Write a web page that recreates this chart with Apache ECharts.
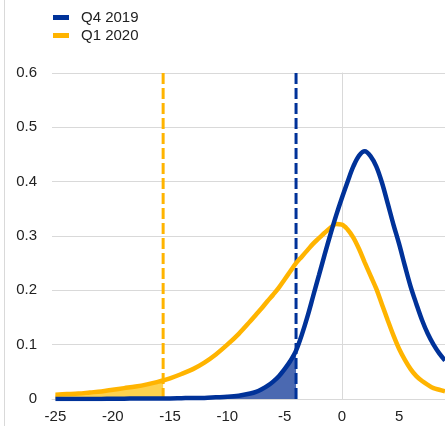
<!DOCTYPE html>
<html>
<head>
<meta charset="utf-8">
<script src="https://cdn.jsdelivr.net/npm/echarts@6/dist/echarts.min.js"></script>
<style>
  html, body { margin: 0; padding: 0; background: #fff; }
  #chart { width: 445px; height: 426px; }
</style>
</head>
<body>
<div id="chart"></div>
<script>
// Growth outcomes grid (x) and estimated densities for two quarters
const xs = [-25, -24, -23, -22, -21, -20, -19, -18, -17, -16, -15.6, -15, -14, -13, -12, -11, -10, -9, -8,
            -7.5, -7, -6.5, -6, -5.5, -5, -4.5, -4, -3.5, -3, -2.5, -2, -1.5, -1, -0.5, 0,
            0.5, 1, 1.5, 2, 2.5, 3, 3.5, 4, 4.5, 5, 5.5, 6, 6.5, 7, 7.5, 8, 8.5, 9];
const q4_2019 = [0.000, 0.000, 0.000, 0.000, 0.000, 0.0005, 0.0005, 0.001, 0.001, 0.001, 0.001, 0.001, 0.0015, 0.002, 0.002, 0.003, 0.004, 0.006, 0.010,
                 0.013, 0.018, 0.024, 0.032, 0.042, 0.055, 0.070, 0.089, 0.118, 0.152, 0.190, 0.228, 0.266, 0.303, 0.338, 0.370,
                 0.400, 0.428, 0.448, 0.456, 0.447, 0.428, 0.398, 0.360, 0.321, 0.285, 0.245, 0.207, 0.175, 0.145, 0.120, 0.100, 0.084, 0.071];
const q1_2020 = [0.008, 0.009, 0.010, 0.012, 0.014, 0.017, 0.020, 0.023, 0.027, 0.032, 0.034, 0.038, 0.046, 0.055, 0.067, 0.082, 0.100, 0.120, 0.143,
                 0.155, 0.167, 0.180, 0.192, 0.205, 0.220, 0.235, 0.250, 0.262, 0.274, 0.286, 0.296, 0.306, 0.315, 0.322, 0.321,
                 0.312, 0.297, 0.276, 0.251, 0.227, 0.203, 0.174, 0.145, 0.117, 0.092, 0.072, 0.055, 0.042, 0.033, 0.026, 0.020, 0.017, 0.014];

// Left-tail thresholds (shaded areas end here)
const cutQ4 = -4;
const cutQ1 = -15.6;

const xTicks = [-25, -20, -15, -10, -5, 0, 5];
const yMax = 0.6;

const BLUE = '#003299';
const YELLOW = '#ffb400';

const pairs = ys => xs.map((x, i) => [x, ys[i]]);
const tail = (ys, cut) => pairs(ys).filter(p => p[0] <= cut);

const chart = echarts.init(document.getElementById('chart'), null, { renderer: 'canvas' });
const font = 'Arial, "Liberation Sans", sans-serif';

function tailArea(name, ys, cut, fill) {
  return {
    name: name,
    type: 'line',
    data: tail(ys, cut),
    smooth: 0.35,
    showSymbol: false,
    lineStyle: { width: 0 },
    areaStyle: { color: fill, opacity: 1 },
    silent: true,
    z: 1
  };
}

// Vertical dashed threshold line, drawn top-down so the dash pattern starts at the top
function cutLine(name, cut, color) {
  return {
    name: name,
    type: 'line',
    data: [[cut, yMax], [cut, 0]],
    showSymbol: false,
    lineStyle: { color: color, width: 3, type: [11, 4] },
    silent: true,
    z: 2
  };
}

chart.setOption({
  animation: false,
  textStyle: { fontFamily: font },
  graphic: [{
    type: 'line',
    shape: { x1: 4.5, y1: 0, x2: 4.5, y2: 426 },
    style: { stroke: '#d9d9d9', lineWidth: 1 },
    silent: true
  }],
  legend: {
    orient: 'vertical',
    left: 53,
    top: 10,
    padding: 0,
    itemWidth: 16,
    itemHeight: 5,
    itemGap: 3,
    icon: 'rect',
    data: ['Q4 2019', 'Q1 2020'],
    textStyle: { fontSize: 15, color: '#222', fontFamily: font, lineHeight: 15, padding: [0, 0, 0, 7] }
  },
  grid: { left: 52, right: 0, top: 73, bottom: 27, containLabel: false },
  xAxis: {
    type: 'value',
    min: -25.3,
    max: 9,
    axisLine: { show: true, lineStyle: { color: '#d9d9d9', width: 1 } },
    axisTick: { show: false },
    splitLine: { show: false },
    axisLabel: {
      customValues: xTicks,
      fontSize: 15,
      color: '#222',
      fontFamily: font,
      margin: 10
    }
  },
  yAxis: {
    type: 'value',
    min: 0,
    max: yMax,
    interval: 0.1,
    axisLine: { show: true, lineStyle: { color: '#d9d9d9', width: 1 } },
    axisTick: { show: false },
    splitLine: { show: true, lineStyle: { color: '#d9d9d9', width: 1 } },
    axisLabel: {
      fontSize: 15,
      color: '#222',
      fontFamily: font,
      margin: 15,
      formatter: v => String(Math.round(v * 10) / 10)
    }
  },
  series: [
    tailArea('tail Q1 2020', q1_2020, cutQ1, '#fdd24e'),
    tailArea('tail Q4 2019', q4_2019, cutQ4, '#4b69b1'),
    cutLine('cut Q1 2020', cutQ1, YELLOW),
    cutLine('cut Q4 2019', cutQ4, BLUE),
    {
      name: 'Q1 2020',
      type: 'line',
      data: pairs(q1_2020),
      smooth: 0.35,
      showSymbol: false,
      color: YELLOW,
      lineStyle: { color: YELLOW, width: 4.5 },
      z: 3
    },
    {
      name: 'Q4 2019',
      type: 'line',
      data: pairs(q4_2019),
      smooth: 0.35,
      showSymbol: false,
      color: BLUE,
      lineStyle: { color: BLUE, width: 4.5 },
      z: 4
    }
  ]
});
</script>
</body>
</html>
